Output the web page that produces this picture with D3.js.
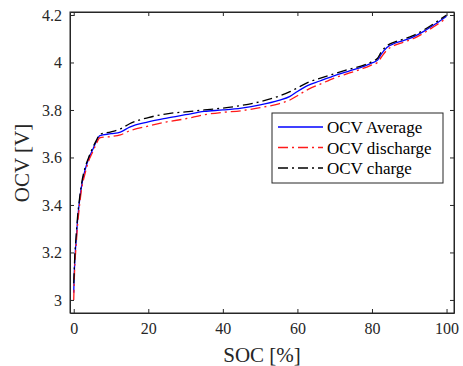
<!DOCTYPE html>
<html><head><meta charset="utf-8">
<script src="https://cdn.jsdelivr.net/npm/d3@7"></script>
<style>html,body{margin:0;padding:0;background:#fff;}svg{display:block;}text{font-family:"Liberation Serif","Times New Roman",serif;}</style>
</head><body><svg id="c" width="463" height="366" font-family="Liberation Serif"></svg>
<script>
const soc = [0,0.1,0.3,0.6,1,1.5,2,3,4,5,6,7,10,12.5,15,20,25,30,35,40,45,50,55,58,60,63,66,70,74,78,80,81.5,82.5,84,86,88,91,94,97,100];
const ocvAvg = [3.03,3.09,3.17,3.24,3.33,3.41,3.47,3.545,3.595,3.63,3.665,3.692,3.700,3.707,3.728,3.750,3.766,3.780,3.794,3.800,3.808,3.821,3.840,3.857,3.878,3.905,3.922,3.945,3.965,3.985,3.998,4.010,4.035,4.063,4.080,4.090,4.107,4.132,4.162,4.195];
const ocvCharge = [3.07,3.11,3.19,3.26,3.345,3.42,3.48,3.555,3.60,3.638,3.67,3.697,3.708,3.72,3.742,3.768,3.784,3.792,3.800,3.808,3.819,3.835,3.858,3.877,3.893,3.917,3.933,3.953,3.972,3.99,4.004,4.018,4.045,4.07,4.086,4.096,4.113,4.138,4.168,4.2];
const ocvDischarge = [3.0,3.06,3.15,3.22,3.31,3.39,3.455,3.53,3.585,3.62,3.655,3.683,3.688,3.695,3.712,3.732,3.75,3.763,3.78,3.79,3.797,3.81,3.826,3.842,3.86,3.888,3.908,3.935,3.956,3.977,3.99,4.0,4.022,4.052,4.072,4.083,4.1,4.125,4.155,4.187];
const xTicks = [0,20,40,60,80,100];
const yTicks = [3,3.2,3.4,3.6,3.8,4,4.2];
const seriesNames = ["OCV Average","OCV discharge","OCV charge"];

const FONT = "Liberation Serif";
const svg = d3.select("#c");
const L=70,R=454,T=12,B=313;
const x = d3.scaleLinear().domain([-1,102]).range([L,R]);
const y = d3.scaleLinear().domain([2.945,4.2126]).range([B,T]);
const axisCol = "#262626";

const series = [
  {name:seriesNames[0], vals:ocvAvg, color:"#0000ff", dash:null},
  {name:seriesNames[1], vals:ocvDischarge, color:"#ff1a1a", dash:"10,4,2,4"},
  {name:seriesNames[2], vals:ocvCharge, color:"#000000", dash:"10,4,2,4"}
];
const line = d3.line().x((d,i)=>x(soc[i])).y(d=>y(d)).curve(d3.curveMonotoneX);
const g = svg.append("g");
g.append("defs").append("clipPath").attr("id","clip").append("rect").attr("x",L).attr("y",T).attr("width",R-L).attr("height",B-T);
series.forEach(s=>{
  g.append("path").datum(s.vals).attr("d",line).attr("fill","none")
   .attr("stroke",s.color).attr("stroke-width",1.3)
   .attr("stroke-dasharray",s.dash).attr("clip-path","url(#clip)");
});

// axes
const tl=4;
const fmt = d=>String(d);
const xb = svg.append("g").attr("transform",`translate(0,${B})`)
  .call(d3.axisBottom(x).tickValues(xTicks).tickSizeInner(-tl).tickSizeOuter(0).tickPadding(10).tickFormat(fmt));
const xt = svg.append("g").attr("transform",`translate(0,${T})`)
  .call(d3.axisTop(x).tickValues(xTicks).tickSizeInner(-tl).tickSizeOuter(0).tickFormat(""));
const yl = svg.append("g").attr("transform",`translate(${L},0)`)
  .call(d3.axisLeft(y).tickValues(yTicks).tickSizeInner(-tl).tickSizeOuter(0).tickPadding(8).tickFormat(fmt));
const yr = svg.append("g").attr("transform",`translate(${R},0)`)
  .call(d3.axisRight(y).tickValues(yTicks).tickSizeInner(-tl).tickSizeOuter(0).tickFormat(""));
[xb,xt,yl,yr].forEach(a=>{
  a.attr("font-family",FONT).attr("font-size",16);
  a.select(".domain").attr("stroke",axisCol).attr("stroke-width",1);
  a.selectAll(".tick line").attr("stroke",axisCol);
  a.selectAll("text").attr("fill",axisCol).attr("font-family",FONT).attr("font-size",16);
});
xb.selectAll("text").attr("dy","0.71em");
svg.append("rect").attr("x",L).attr("y",T).attr("width",R-L).attr("height",B-T).attr("fill","none").attr("stroke",axisCol).attr("stroke-width",1);

// labels
svg.append("text").attr("x",(L+R)/2).attr("y",362).attr("text-anchor","middle")
  .attr("font-family",FONT).attr("font-size",21).attr("fill",axisCol).text("SOC [%]");
svg.append("text").attr("transform","translate(29,163) rotate(-90)").attr("text-anchor","middle")
  .attr("font-family",FONT).attr("font-size",21).attr("fill",axisCol).text("OCV [V]");

// legend
const lg = svg.append("g");
lg.append("rect").attr("x",272).attr("y",113).attr("width",171).attr("height",70).attr("fill","#fff").attr("stroke",axisCol).attr("stroke-width",1);
series.forEach((s,i)=>{
  const yy = 127 + i*20.5;
  lg.append("line").attr("x1",278).attr("x2",323).attr("y1",yy).attr("y2",yy)
    .attr("stroke",s.color).attr("stroke-width",1.3).attr("stroke-dasharray",s.dash);
  lg.append("text").attr("x",327).attr("y",yy+6).attr("fill","#000")
    .attr("font-family",FONT).attr("font-size",17).text(s.name);
});
</script></body></html>
